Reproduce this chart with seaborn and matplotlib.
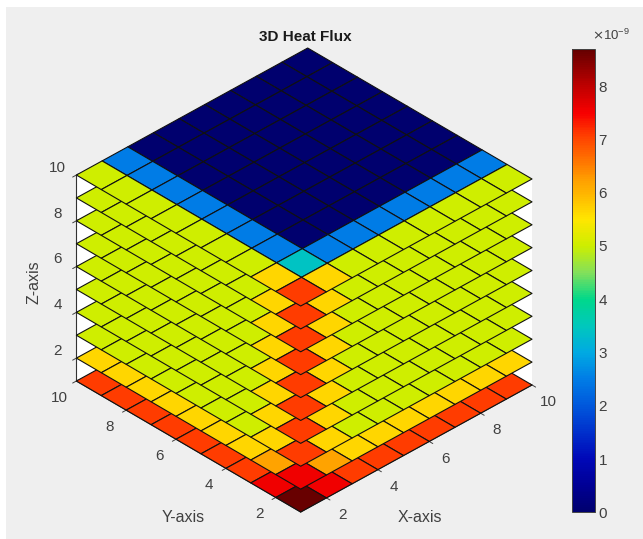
import numpy as np
import matplotlib
matplotlib.use("Agg")
import matplotlib.pyplot as plt
from matplotlib.colors import LinearSegmentedColormap, Normalize
from matplotlib.cm import ScalarMappable
from matplotlib.patches import Rectangle
from matplotlib.ticker import ScalarFormatter
import seaborn as sns

# --- data (heat flux in units of 1e-9) ---
grid_nodes = np.arange(1, 11)
z_levels = np.arange(1, 11)
corner_cell = [8.65, 7.55, 7.1, 7.1, 7.1, 7.1, 7.1, 7.1, 7.1, 7.1]
flank_cell = [7.55, 6.2, 5.65, 5.65, 5.65, 5.65, 5.65, 5.65, 5.65, 5.65]
edge_cell = [7.1, 5.65, 5.0, 5.0, 5.0, 5.0, 5.0, 5.0, 5.0, 5.0]
inner_corner = 3.4
inner_edge = 2.5
interior = 0.0
vmax = 8.7
cb_ticks = [0, 1, 2, 3, 4, 5, 6, 7, 8]
tick_vals = [2, 4, 6, 8, 10]
cmap_stops = [
    (0.0, "#00006e"), (0.5, "#000096"), (1.0, "#0008b8"), (1.5, "#0030cc"), (2.0, "#0058dc"),
    (2.5, "#007de6"), (3.0, "#00aae2"), (3.5, "#00c8bc"), (4.0, "#00d88a"), (4.5, "#84e05a"),
    (5.0, "#cdee00"), (5.5, "#ffe600"), (5.65, "#ffd700"), (6.0, "#ffb400"), (6.2, "#ffa400"),
    (6.5, "#ff8000"), (7.1, "#ff3c00"), (7.5, "#f80000"), (8.0, "#c00000"), (8.7, "#640000"),
]

sns.set_theme(style="white")
plt.rcParams["font.family"] = ["Liberation Sans", "DejaVu Sans"]
BG = "#efefef"
INK = "#404040"

cmap = LinearSegmentedColormap.from_list(
    "flux", [(v / vmax, c) for v, c in cmap_stops], N=256)
norm = Normalize(0, vmax)

fig = plt.figure(figsize=(6.43, 5.39), dpi=100, facecolor="white")
fig.add_artist(Rectangle((6 / 643, 0), 637 / 643, 532 / 539, transform=fig.transFigure,
                         facecolor=BG, edgecolor="none", zorder=-5))
P = 520.0
CX, CY = 297.16, 251.97
ax = fig.add_axes([(CX - P / 2) / 643, (CY - P / 2) / 539, P / 643, P / 539],
                  projection="3d", facecolor="none")
ax.computed_zorder = False
ax.set_proj_type("ortho")
ax.view_init(elev=34.49, azim=-134.12)
ax.set_box_aspect((1, 1, 0.7756), zoom=0.9703)

X, Y = np.meshgrid(grid_nodes, grid_nodes)
for k, z in enumerate(z_levels):
    V = np.full((9, 9), interior)
    V[1, 1:] = inner_edge
    V[1:, 1] = inner_edge
    V[1, 1] = inner_corner
    V[0, :] = edge_cell[k]
    V[:, 0] = edge_cell[k]
    V[0, 1] = V[1, 0] = flank_cell[k]
    V[0, 0] = corner_cell[k]
    ax.plot_surface(X, Y, np.full(X.shape, float(z)), rstride=1, cstride=1,
                    facecolors=cmap(norm(V)), edgecolor="#111111", linewidth=0.8,
                    shade=False, antialiased=True, zorder=k + 1)

ax.set_xlim(1, 10, view_margin=0)
ax.set_ylim(1, 10, view_margin=0)
ax.set_zlim(1, 10, view_margin=0)
ax.set_xticks(tick_vals)
ax.set_yticks(tick_vals)
ax.set_zticks(tick_vals)
ax.grid(False)
for axis in (ax.xaxis, ax.yaxis, ax.zaxis):
    axis.set_pane_color("white")
    axis.pane.set_edgecolor("white")
    axis.line.set_color("#333333")
    axis.line.set_linewidth(0.8)
    axis._axinfo["tick"]["color"] = "#333333"
    axis._axinfo["tick"]["linewidth"] = {True: 0.7, False: 0.5}
ax.tick_params(axis="x", labelsize=11, colors=INK, pad=6)
ax.tick_params(axis="y", labelsize=11, colors=INK, pad=6)
ax.tick_params(axis="z", labelsize=11, colors=INK, pad=0)
ax.zaxis.set_ticks_position("upper")
for axis in (ax.xaxis, ax.yaxis, ax.zaxis):
    for tick in axis.get_major_ticks():
        tick.label1.set_va("bottom")

ax.set_title("3D Heat Flux", fontsize=11, fontweight="bold", color="#1a1a1a",
             x=(305 - (CX - P / 2)) / P, y=1.041)
fig.text(420 / 643, 1 - 517 / 539, "X-axis", fontsize=11.5, color=INK, ha="center", va="center")
fig.text(183 / 643, 1 - 517 / 539, "Y-axis", fontsize=11.5, color=INK, ha="center", va="center")
fig.text(34 / 643, 1 - 282 / 539, "Z-axis", fontsize=11.5, color=INK, ha="center", va="center", rotation=90)

# colour bar
cax = fig.add_axes([572.3 / 643, 1 - 512.3 / 539, 22.7 / 643, 463.6 / 539])
sm = ScalarMappable(norm=Normalize(0, vmax * 1e-9), cmap=cmap)
cb = fig.colorbar(sm, cax=cax)
cb.set_ticks([t * 1e-9 for t in cb_ticks])
fmt = ScalarFormatter(useMathText=True)
fmt.set_powerlimits((0, 0))
cb.ax.yaxis.set_major_formatter(fmt)
cb.ax.tick_params(direction="in", length=3, width=0.7, labelsize=11, labelcolor=INK,
                  color="#333333", pad=2, right=True, left=False)
cb.outline.set_edgecolor("#444444")
cb.outline.set_linewidth(0.7)
off = cb.ax.yaxis.get_offset_text()
off.set_fontsize(9.5)
off.set_color(INK)
off.set_x(2.54)
cb.ax.yaxis.OFFSETTEXTPAD = 6

fig.savefig("out.png", dpi=100, facecolor="white")
